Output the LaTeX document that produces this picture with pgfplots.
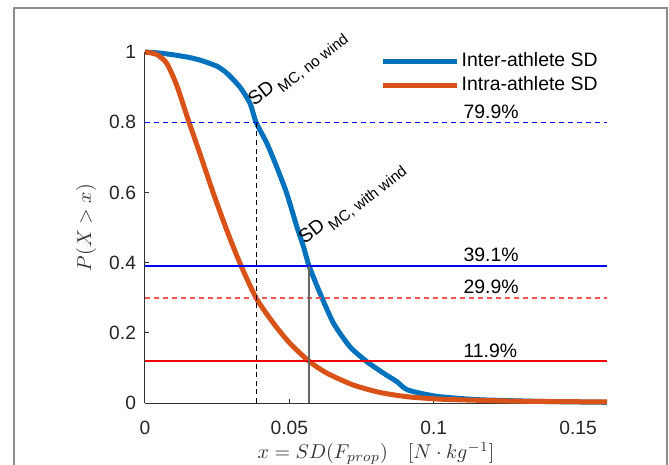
\documentclass[border=0pt]{standalone}
\usepackage[no-math]{fontspec}
\setmainfont{Liberation Sans}
\usepackage{pgfplots}
\pgfplotsset{compat=1.18}

\definecolor{interblue}{rgb}{0,0.447,0.741}
\definecolor{intraorange}{rgb}{0.85,0.325,0.098}
\definecolor{refblue}{rgb}{0,0,1}
\definecolor{refred}{rgb}{0.95,0,0}
\definecolor{lightred}{rgb}{1,0.33,0.33}
\definecolor{vgray}{rgb}{0.4,0.4,0.4}

\newcommand{\sdmc}[1]{SD\,\raisebox{-0.38em}{\fontsize{7.6}{8}\selectfont MC, #1}}

\begin{document}
\begin{tikzpicture}
\useasboundingbox (0pt,0pt) rectangle (334.5pt,-232.5pt);
\draw[black!45, line width=0.6pt] (7pt,-240pt) -- (7pt,-4pt) -- (333.5pt,-4pt) -- (333.5pt,-240pt);
\begin{axis}[
  at={(72.5pt,-201.5pt)}, anchor=south west,
  scale only axis, width=231pt, height=175.5pt,
  xmin=0, xmax=0.16, ymin=0, ymax=1,
  clip=false,
  axis x line*=bottom, axis y line*=left,
  axis line style={black!80, line width=0.5pt, -},
  tick style={black!80, line width=0.5pt},
  major tick length=2pt, tick align=inside,
  xtick={0,0.05,0.1,0.15}, xticklabels={0,0.05,0.1,0.15},
  ytick={0,0.2,0.4,0.6,0.8,1}, yticklabels={0,0.2,0.4,0.6,0.8,1},
  tick label style={font=\fontsize{9.6}{11}\selectfont, black!85},
  xticklabel style={yshift=-5.5pt},
  yticklabel style={xshift=-1pt},
  label style={font=\fontsize{10}{12}\selectfont, black!80},
  xlabel={$x = SD(F_{prop}) \quad [N\cdot kg^{-1}]$},
  ylabel={$P(X > x)$},
  xlabel style={at={(axis description cs:0.5,-0.143)}, anchor=center},
  ylabel style={at={(axis description cs:-0.1277,0.5)}, anchor=center},
  legend style={draw=none, fill=none, at={(axis cs:0.0815,1.005)}, anchor=north west,
    font=\fontsize{9.7}{11}\selectfont, inner sep=0pt, row sep=1.5pt,
    nodes={inner sep=1pt}},
  legend cell align=left,
  legend image code/.code={\draw[#1] (0pt,0pt) -- (37pt,0pt);},
  every axis plot/.append style={line join=round},
]
% empirical exceedance curves
\addplot[interblue, line width=2.5pt, smooth, tension=0.4] coordinates {
  (0,1) (0.005,0.997) (0.0098,0.992) (0.015,0.985) (0.019,0.977)
  (0.0248,0.960) (0.0283,0.940) (0.0329,0.900) (0.0364,0.853)
  (0.0385,0.799) (0.0422,0.740) (0.0456,0.673) (0.0491,0.597)
  (0.0526,0.502) (0.0549,0.445) (0.0568,0.391) (0.0606,0.313)
  (0.0653,0.227) (0.0710,0.160) (0.0768,0.118) (0.0826,0.085)
  (0.0872,0.061) (0.0890,0.048) (0.0910,0.037) (0.0964,0.026)
  (0.102,0.018) (0.114,0.010) (0.125,0.007) (0.140,0.004) (0.160,0.002)
};
\addlegendentry{Inter-athlete SD}
\addplot[intraorange, line width=2.5pt, smooth, tension=0.4] coordinates {
  (0,1) (0.004,0.993) (0.0075,0.968) (0.011,0.905) (0.015,0.806)
  (0.019,0.711) (0.0237,0.597) (0.0283,0.493) (0.0329,0.398)
  (0.0385,0.299) (0.0445,0.227) (0.0502,0.170) (0.0568,0.119)
  (0.0630,0.085) (0.0722,0.051) (0.0814,0.030) (0.0907,0.018)
  (0.102,0.011) (0.114,0.008) (0.130,0.005) (0.160,0.003)
};
\addlegendentry{Intra-athlete SD}

% reference levels (dashed: no wind, solid: with wind)
\addplot[draw=refblue, line width=0.6pt, dash pattern=on 2.7pt off 1.8pt, forget plot] coordinates {(0,0.799) (0.16,0.799)};
\addplot[draw=lightred, line width=0.6pt, dash pattern=on 2.7pt off 1.8pt, forget plot] coordinates {(0,0.299) (0.16,0.299)};
\addplot[draw=black, line width=0.6pt, dash pattern=on 2.5pt off 1.8pt, forget plot] coordinates {(0.0385,0) (0.0385,0.799)};
\addplot[draw=refblue, line width=0.9pt, forget plot] coordinates {(0,0.391) (0.16,0.391)};
\addplot[draw=refred, line width=0.9pt, forget plot] coordinates {(0,0.119) (0.16,0.119)};
\addplot[draw=vgray, line width=1pt, forget plot] coordinates {(0.0568,0) (0.0568,0.391)};

\begin{scope}[every node/.style={font=\fontsize{9.7}{11}\selectfont, inner sep=0pt}]
\node[anchor=base west] at (axis cs:0.1102,0.811) {79.9\%};
\node[anchor=base west] at (axis cs:0.1102,0.404) {39.1\%};
\node[anchor=base west] at (axis cs:0.1102,0.312) {29.9\%};
\node[anchor=base west] at (axis cs:0.1102,0.131) {11.9\%};
\node[anchor=base west, rotate=38] at (axis cs:0.0378,0.845) {\sdmc{no wind}};
\node[anchor=base west, rotate=38] at (axis cs:0.0553,0.452) {\sdmc{with wind}};
\end{scope}
\end{axis}
\end{tikzpicture}
\end{document}
